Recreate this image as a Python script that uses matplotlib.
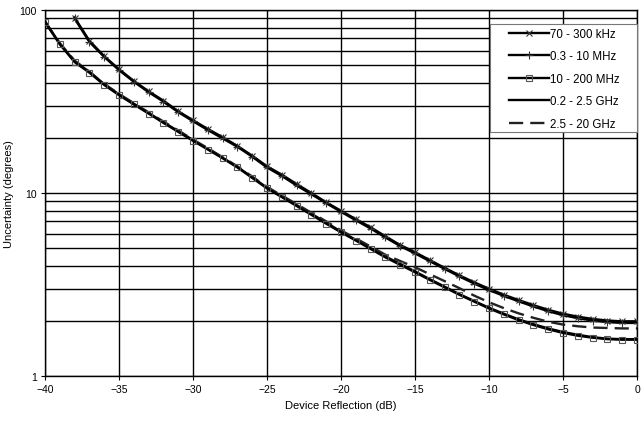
import numpy as np
import matplotlib
matplotlib.use('Agg')
import matplotlib.pyplot as plt
from matplotlib.ticker import LogLocator, NullFormatter, FixedLocator, FixedFormatter
from matplotlib.patches import Rectangle

plt.rcParams['font.family'] = ['Liberation Sans', 'DejaVu Sans']

# reflection (dB)
db_khz = list(range(-38, 1))
db_ghz = list(range(-40, 1))

# 70 - 300 kHz
unc_khz = [91, 68, 56, 47.5, 41, 36, 32, 28, 25, 22.4, 20.2, 18.1, 16.0, 14.0,
           12.6, 11.2, 10.0, 8.9, 8.0, 7.2, 6.5, 5.8, 5.2, 4.75, 4.3, 3.9, 3.55,
           3.25, 3.0, 2.78, 2.6, 2.44, 2.3, 2.19, 2.11, 2.05, 2.01, 1.99, 1.99]
# 0.3 - 10 MHz
unc_mhz = [90, 67, 55.5, 47, 40.6, 35.6, 31.6, 27.7, 24.7, 22.1, 19.9, 17.9,
           15.8, 13.8, 12.4, 11.0, 9.85, 8.8, 7.9, 7.1, 6.4, 5.72, 5.13, 4.68,
           4.24, 3.85, 3.5, 3.2, 2.95, 2.74, 2.56, 2.4, 2.26, 2.15, 2.07, 2.01,
           1.97, 1.95, 1.95]
# 10 - 200 MHz
unc_200 = [86, 65, 52, 45.5, 39, 34.3, 30.5, 27.2, 24.2, 21.6, 19.3, 17.3, 15.5,
           13.8, 12.1, 10.6, 9.5, 8.5, 7.6, 6.8, 6.1, 5.5, 4.95, 4.45, 4.05, 3.69,
           3.35, 3.05, 2.78, 2.55, 2.34, 2.17, 2.02, 1.9, 1.8, 1.72, 1.66, 1.62,
           1.59, 1.58, 1.58]
# 0.2 - 2.5 GHz
unc_25g = [87, 65.5, 52.5, 46, 39.4, 34.6, 30.8, 27.4, 24.4, 21.8, 19.5, 17.4,
           15.6, 13.9, 12.2, 10.7, 9.6, 8.6, 7.7, 6.9, 6.15, 5.55, 5.0, 4.5, 4.1,
           3.73, 3.38, 3.08, 2.8, 2.57, 2.36, 2.19, 2.04, 1.92, 1.82, 1.74, 1.68,
           1.63, 1.6, 1.59, 1.59]
# 2.5 - 20 GHz
unc_20g = [86, 66, 53, 46, 39.5, 34.8, 31, 27.6, 24.6, 22, 19.6, 17.6, 15.7,
           14.0, 12.3, 10.8, 9.7, 8.7, 7.8, 7.0, 6.25, 5.65, 5.1, 4.6, 4.25, 3.93,
           3.6, 3.3, 3.02, 2.75, 2.53, 2.35, 2.2, 2.08, 1.98, 1.91, 1.87, 1.84,
           1.83, 1.82, 1.82]

fig = plt.figure(figsize=(6.41, 4.27), dpi=100)
ax = fig.add_axes([0.0702, 0.1171, 0.9236, 0.8569])

ax.plot(db_khz, unc_khz, color='black', lw=1.7, marker='x', ms=5, mew=0.8,
        mec='#333333', label='70 - 300 kHz', zorder=5)
ax.plot(db_khz, unc_mhz, color='black', lw=1.7, marker='+', ms=6, mew=0.8,
        mec='#333333', label='0.3 - 10 MHz', zorder=5)
ax.plot(db_ghz, unc_200, color='black', lw=1.7, marker='s', ms=4.5, mew=0.8,
        mfc='none', mec='#555555', label='10 - 200 MHz', zorder=5)
ax.plot(db_ghz, unc_25g, color='black', lw=1.7, label='0.2 - 2.5 GHz', zorder=4)
ax.plot(db_ghz, unc_20g, color='#222222', lw=1.7, ls=(0, (6, 3)),
        label='2.5 - 20 GHz', zorder=4)

ax.set_yscale('log')
ax.set_xlim(-40, 0)
ax.set_ylim(1, 100)
ax.xaxis.set_major_locator(FixedLocator(range(-40, 1, 5)))
ax.yaxis.set_major_locator(FixedLocator([1, 10, 100]))
ax.yaxis.set_major_formatter(FixedFormatter(['1', '10', '100']))
ax.yaxis.set_minor_locator(LogLocator(base=10, subs=np.arange(2, 10)))
ax.yaxis.set_minor_formatter(NullFormatter())
ax.tick_params(axis='y', which='minor', length=0)
ax.tick_params(which='major', length=3, width=0.8, labelsize=7.5, pad=3)

ax.grid(True, which='major', color='black', lw=1.0)
ax.grid(True, which='minor', axis='y', color='black', lw=1.0)
ax.set_axisbelow(True)
for s in ax.spines.values():
    s.set_linewidth(1.0)

ax.set_xlabel('Device Reflection (dB)', fontsize=8)
ax.set_ylabel('Uncertainty (degrees)', fontsize=8)

# legend box drawn separately so the padding can match
box = Rectangle((0.7517, 0.6667), 0.2483, 0.295, transform=ax.transAxes,
                facecolor='white', edgecolor='#777777', lw=0.8, zorder=6,
                clip_on=False)
ax.add_patch(box)
leg = ax.legend(loc='center left', bbox_to_anchor=(0.783, 0.812), fontsize=8.3,
                handlelength=3.5, handletextpad=0.1, borderpad=0,
                borderaxespad=0, labelspacing=0.92, frameon=False)
leg.set_zorder(7)

plt.savefig('out.png', dpi=100)
